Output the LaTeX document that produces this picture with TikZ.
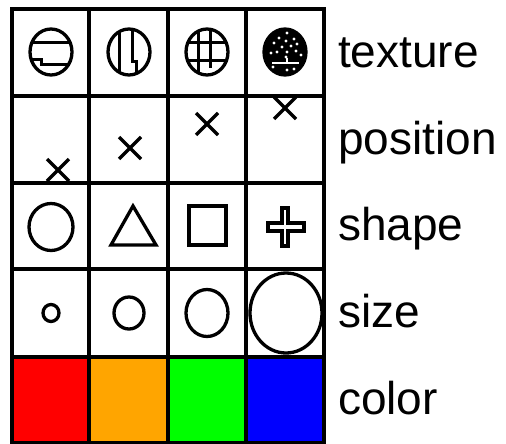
\documentclass[tikz,border=0pt]{standalone}
\usepackage{fontspec}
\setmainfont{Liberation Sans}
\definecolor{orng}{HTML}{FFA500}
\newcommand\labsize{\fontsize{46}{52}\selectfont}

\begin{document}
\begin{tikzpicture}[
  x=1pt, y=-1pt,
  grid/.style={line width=3.8pt, draw=black},
  sym/.style={line width=3.3pt, draw=black},
  tex/.style={line width=3pt, draw=black},
  speck/.style={fill=white},
  lab/.style={anchor=base west, inner sep=0pt, font=\labsize}
]
\useasboundingbox (0,0) rectangle (506,444);

% colour row
\fill[red]   (12,357)  rectangle (89,443);
\fill[orng]  (89,357)  rectangle (168,443);
\fill[green] (168,357) rectangle (246,443);
\fill[blue]  (246,357) rectangle (324,443);

% texture row
\begin{scope}
  \clip (51,52) ellipse (21pt and 23pt);
  \draw[tex] (25,43) -- (80,43);
  \draw[tex] (25,60) -- (41,60) -- (41,65) -- (80,65);
\end{scope}
\draw[sym] (51,52) ellipse (21pt and 23pt);

\begin{scope}
  \clip (129,52) ellipse (21pt and 23pt);
  \draw[tex] (119,25) -- (119,80);
  \draw[tex] (132,25) -- (132,62) -- (136,62) -- (136,80);
\end{scope}
\draw[sym] (129,52) ellipse (21pt and 23pt);

\begin{scope}
  \clip (207,52) ellipse (21pt and 23pt);
  \draw[tex] (198,25) -- (198,80);
  \draw[tex] (210,25) -- (210,68);
  \draw[tex] (180,43) -- (235,43);
  \draw[tex] (180,61) -- (235,61);
\end{scope}
\draw[sym] (207,52) ellipse (21pt and 23pt);

\draw[sym, fill=black] (285,52) ellipse (21pt and 23pt);
\foreach \px/\py in {287/33, 279/38, 286/41, 294/39, 274/43, 282/47, 291/46,
                     297/44, 277/52, 287/52, 296/51, 271/53, 301/55, 286/57,
                     287/70, 294/69, 273/67}
  \fill[speck] (\px,\py) circle (1.6pt);
\draw[white, line width=2pt] (272,63) -- (299,63);
\draw[white, line width=2pt] (287,58) -- (287,63);

% position row
\foreach \cx/\cy in {58/170, 130/148, 207/124, 285/108}
  \draw[sym] (\cx-11,\cy-11) -- (\cx+11,\cy+11)
             (\cx-11,\cy+11) -- (\cx+11,\cy-11);

% shape row
\draw[sym] (51,227) ellipse (22pt and 23.5pt);
\draw[sym] (133,206) -- (156,245) -- (111,245) -- cycle;
\draw[sym] (189,206) rectangle (226,245);
\draw[sym] (282,208) -- (288,208) -- (288,223) -- (304,223) -- (304,231)
  -- (288,231) -- (288,246) -- (282,246) -- (282,231) -- (268,231)
  -- (268,223) -- (282,223) -- cycle;

% size row
\draw[sym] (51,313)  ellipse (8pt and 8.5pt);
\draw[sym] (129,313) ellipse (15pt and 16pt);
\draw[sym] (207,313) ellipse (21pt and 23.5pt);
\draw[sym] (286,313) ellipse (36pt and 40pt);

% grid
\draw[grid] (12,9) rectangle (324,443);
\foreach \x in {89,168,246} \draw[grid] (\x,9) -- (\x,443);
\foreach \y in {96,183,269,357} \draw[grid] (12,\y) -- (324,\y);

% labels
\node[lab] (texture)  at (338,67)    {texture};
\node[lab] (position) at (338,154)   {position};
\node[lab] (shape)    at (338,240.5) {shape};
\node[lab] (size)     at (338,327.5) {size};
\node[lab] (color)    at (338,414.5) {color};
\end{tikzpicture}
\end{document}
